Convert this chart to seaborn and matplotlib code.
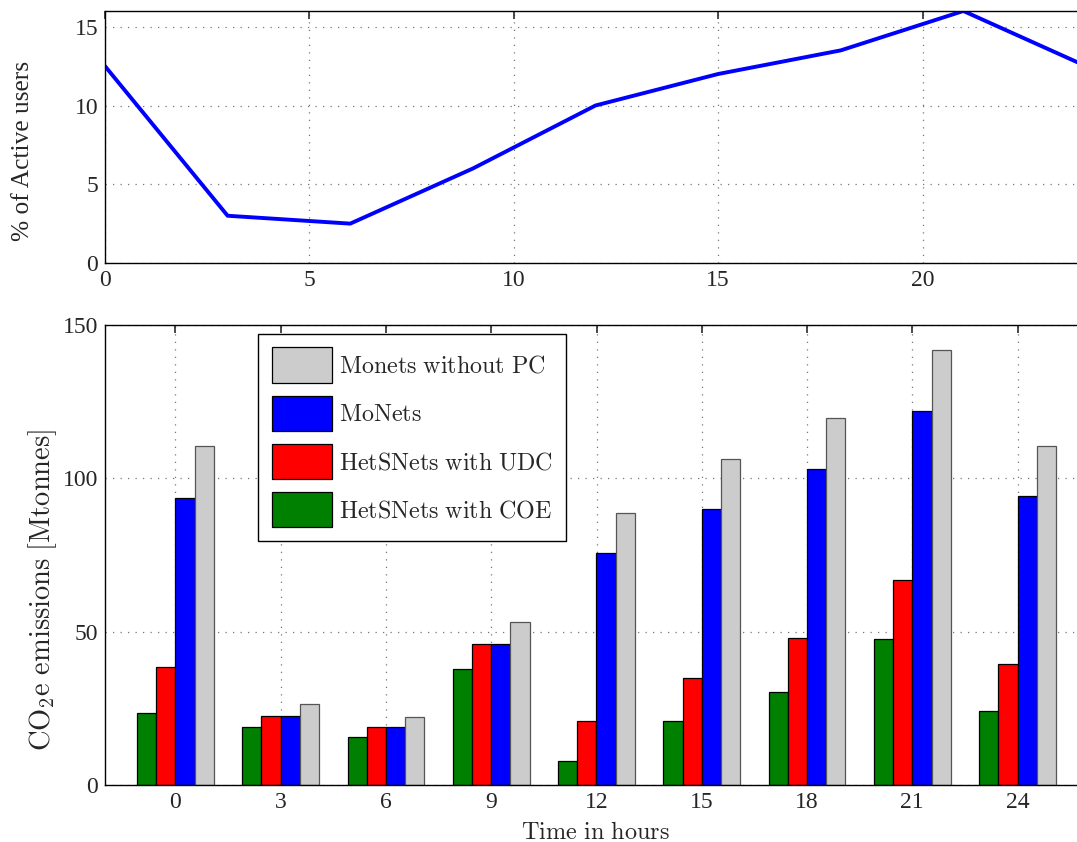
import matplotlib
matplotlib.use("Agg")
import matplotlib.pyplot as plt
import seaborn as sns
import pandas as pd

# ---- data ----
hours_line = [0, 3, 6, 9, 12, 15, 18, 21, 24]
active_users = [12.5, 3.0, 2.5, 6.0, 10.0, 12.0, 13.5, 16.0, 12.5]

hours = ["0", "3", "6", "9", "12", "15", "18", "21", "24"]
coe = [23.4, 19.0, 15.5, 37.8, 7.8, 20.8, 30.3, 47.5, 24.0]
udc = [38.6, 22.6, 18.9, 46.1, 20.8, 34.9, 47.8, 66.9, 39.3]
monets = [93.5, 22.6, 18.9, 46.1, 75.7, 89.9, 102.9, 122.0, 94.2]
monets_nopc = [110.6, 26.4, 22.1, 53.0, 88.6, 106.3, 119.7, 141.8, 110.7]

series_names = ["HetSNets with COE", "HetSNets with UDC", "MoNets", "Monets without PC"]
series_colors = ["#008000", "#FF0000", "#0000FF", "#CCCCCC"]

rows = []
for name, vals in zip(series_names, [coe, udc, monets, monets_nopc]):
    for h, v in zip(hours, vals):
        rows.append({"hour": h, "value": v, "series": name})
df = pd.DataFrame(rows)

sns.set_theme(style="white")
plt.rcParams["font.family"] = ["Liberation Serif", "DejaVu Serif"]
plt.rcParams["mathtext.fontset"] = "cm"

fig = plt.figure(figsize=(10.77, 8.42), dpi=100)

grid_style = dict(linestyle=(0, (1, 5)), color="#777777", linewidth=0.9)

# ---- top axes ----
ax1 = fig.add_axes([105 / 1077, 1 - 263 / 842, 981 / 1077, 252 / 842])
sns.lineplot(x=hours_line, y=active_users, ax=ax1, color="#0000FF", linewidth=2.8)
ax1.set_xlim(0, 24)
ax1.set_ylim(0, 16)
ax1.set_xticks([0, 5, 10, 15, 20])
ax1.set_yticks([0, 5, 10, 15])
ax1.set_ylabel("% of Active users", fontsize=18.3)
ax1.yaxis.set_label_coords(-0.0725, 0.444)
ax1.grid(True, **grid_style)
ax1.tick_params(direction="in", top=True, right=True, length=6, labelsize=17,
                color="#333333", pad=5)
for s in ax1.spines.values():
    s.set_color("black")
    s.set_linewidth(1.0)

# ---- bottom axes ----
ax2 = fig.add_axes([105 / 1077, 1 - 785 / 842, 983 / 1077, 460 / 842])
sns.barplot(data=df, x="hour", y="value", hue="series", order=hours,
            hue_order=series_names, palette=series_colors, width=0.73,
            edgecolor="black", linewidth=0.9, saturation=1, ax=ax2)
for patch in ax2.containers[3]:
    patch.set_edgecolor("#555555")
ax2.set_xlim(-0.669, 8.669)
ax2.set_ylim(0, 150)
ax2.set_yticks([0, 50, 100, 150])
ax2.set_xlabel(r"$\mathrm{Time\ in\ hours}$", fontsize=17.5)
ax2.xaxis.set_label_coords(0.4985, -0.0804)
ax2.set_ylabel(r"$\mathrm{CO_2e\ emissions\ [Mtonnes]}$", fontsize=20.5)
ax2.yaxis.set_label_coords(-0.047, 0.424)
ax2.grid(True, **grid_style)
ax2.set_axisbelow(True)
ax2.tick_params(direction="in", top=True, right=True, length=6, labelsize=17,
                color="#333333", pad=5)
for s in ax2.spines.values():
    s.set_color("black")
    s.set_linewidth(1.0)

handles, labels = ax2.get_legend_handles_labels()
ax2.get_legend().remove()
labels_tex = [r"$\mathrm{" + l.replace(" ", r"\ ") + "}$" for l in labels]
leg = ax2.legend(handles[::-1], labels_tex[::-1], loc="upper left",
                 bbox_to_anchor=(0.156, 0.98), fontsize=17.3, frameon=True,
                 fancybox=False, edgecolor="black", framealpha=1,
                 handlelength=2.5, handleheight=1.87, labelspacing=0.55,
                 borderpad=0.55, handletextpad=0.3, borderaxespad=0)
leg.get_frame().set_linewidth(1.0)

fig.savefig("out.png", dpi=100)
